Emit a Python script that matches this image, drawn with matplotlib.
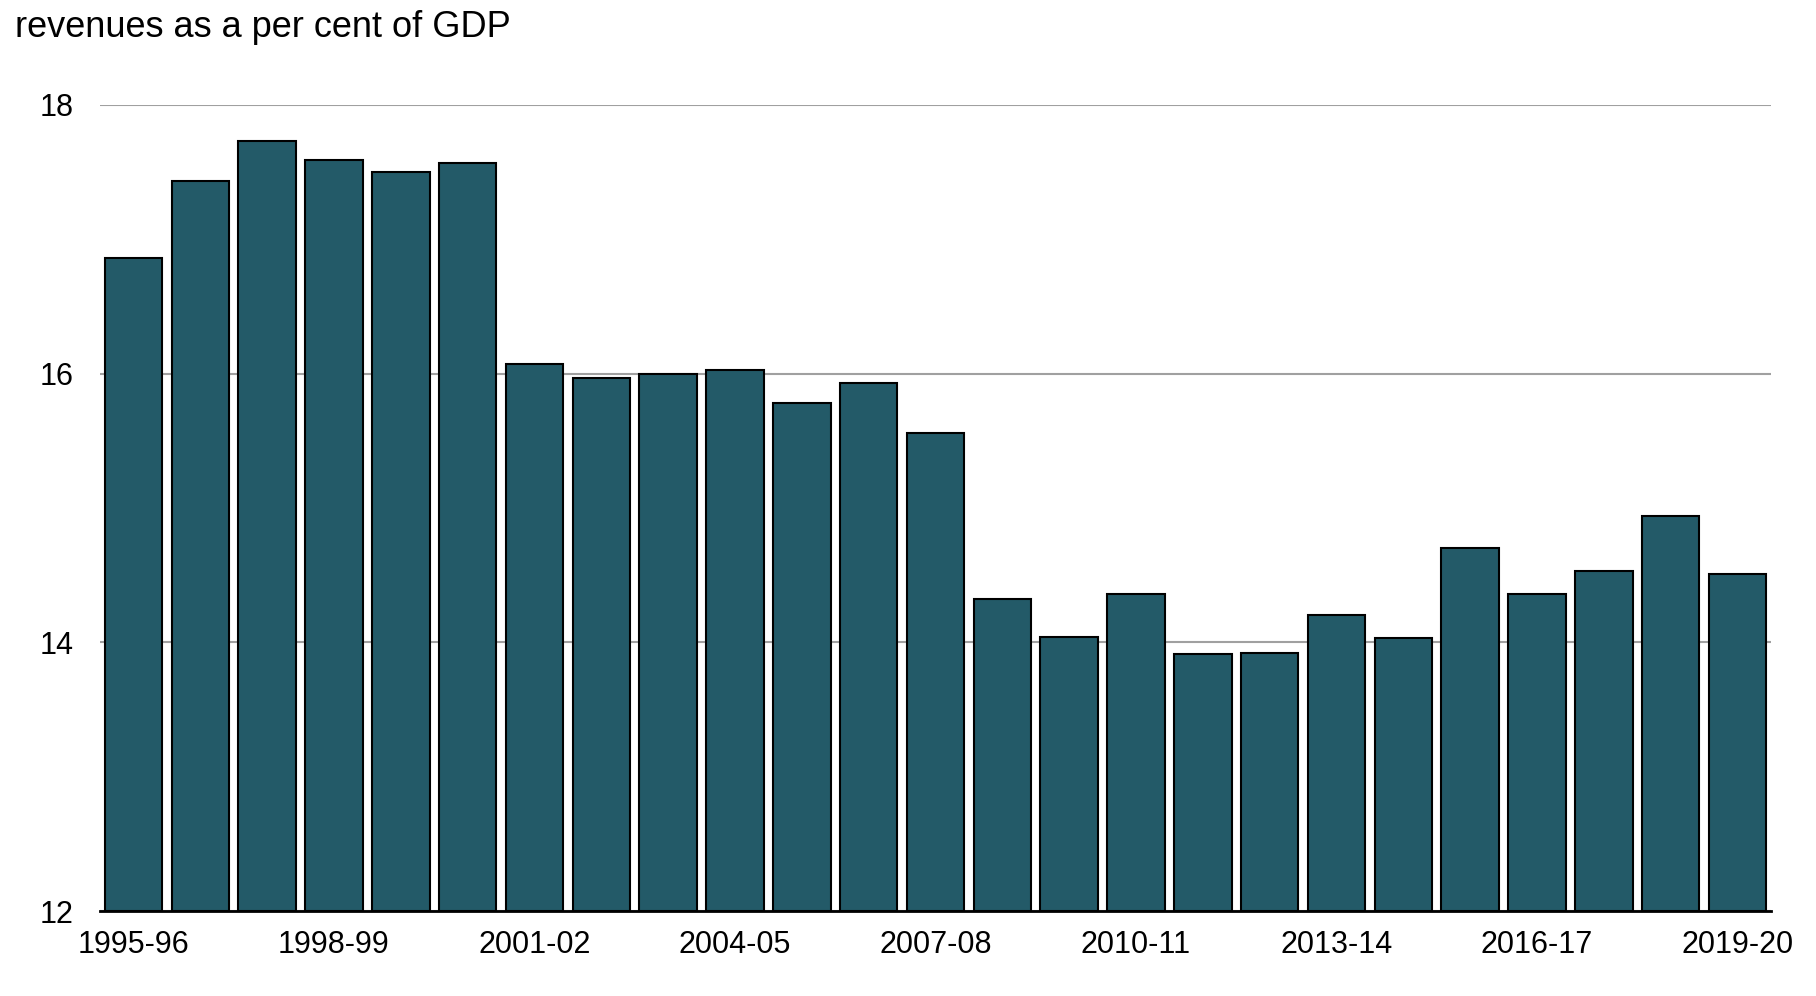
import matplotlib
matplotlib.use("Agg")
import matplotlib.pyplot as plt
import numpy as np

years = ["1995-96", "1996-97", "1997-98", "1998-99", "1999-00", "2000-01",
         "2001-02", "2002-03", "2003-04", "2004-05", "2005-06", "2006-07",
         "2007-08", "2008-09", "2009-10", "2010-11", "2011-12", "2012-13",
         "2013-14", "2014-15", "2015-16", "2016-17", "2017-18", "2018-19",
         "2019-20"]
revenues = [16.86, 17.43, 17.73, 17.59, 17.50, 17.57,
            16.07, 15.97, 16.00, 16.03, 15.78, 15.93,
            15.56, 14.32, 14.04, 14.36, 13.91, 13.92,
            14.20, 14.03, 14.70, 14.36, 14.53, 14.94,
            14.51]
yticks = [12, 14, 16, 18]

plt.rcParams['font.family'] = ['Liberation Sans', 'DejaVu Sans']

fig = plt.figure(figsize=(18.16, 9.96), dpi=100)
ax = fig.add_axes([0.0551, 0.0853, 0.9201, 0.8095])

x = np.arange(len(years))
base = 12
ax.bar(x, np.array(revenues) - base, bottom=base, width=0.86,
       color="#235a68", edgecolor="black", linewidth=1.5, zorder=3)

ax.set_ylim(12, 18)
ax.set_xlim(-0.5, len(years) - 0.5)
ax.set_yticks(yticks)
ax.set_yticklabels([str(t) for t in yticks])
ax.yaxis.grid(True, color="#a0a0a0", linewidth=1.5, zorder=0)
ax.set_axisbelow(True)

ax.set_xticks(x[::3])
ax.set_xticklabels(years[::3])

for s in ["left", "right", "top"]:
    ax.spines[s].set_visible(False)
ax.spines["bottom"].set_linewidth(2.0)
ax.spines["bottom"].set_color("black")
ax.spines["bottom"].set_zorder(4)

ax.tick_params(axis="both", length=0, labelsize=22, colors="black")
ax.tick_params(axis="x", pad=14)
ax.tick_params(axis="y", pad=19)

fig.text(0.0083, 0.9629, "revenues as a per cent of GDP", fontsize=26,
         ha="left", va="baseline")

fig.savefig("out.png", dpi=100)
